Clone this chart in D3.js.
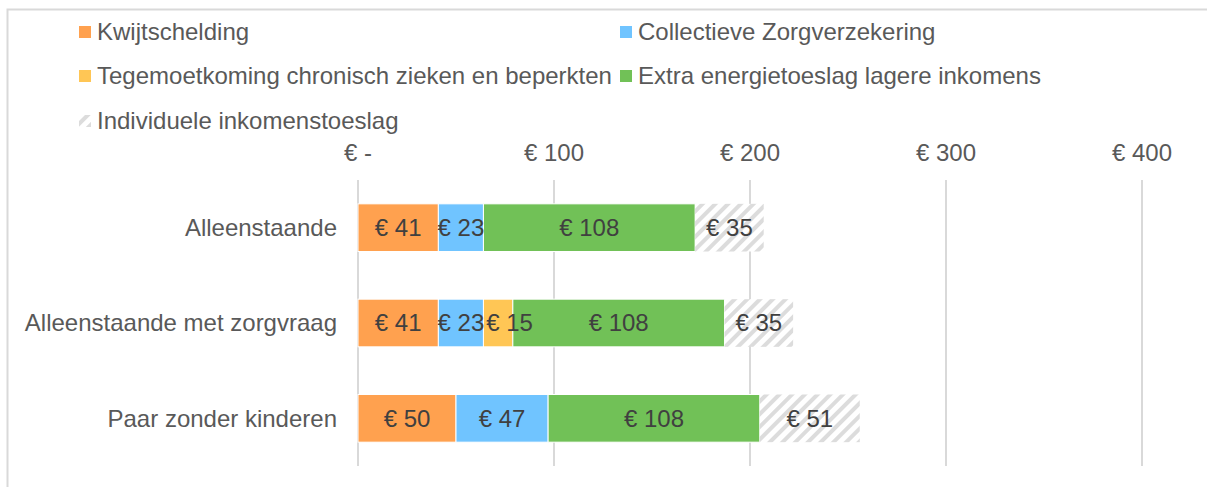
<!DOCTYPE html>
<html lang="nl">
<head>
<meta charset="UTF-8">
<title>Toeslagen per huishouden</title>
<script src="https://d3js.org/d3.v7.min.js"></script>
<style>
    body { margin: 0; background: #fff; }
    svg { display: block; font-family: "Liberation Sans", Arial, sans-serif; }
    .grid line { stroke: #d9d9d9; stroke-width: 2px; }
    .tick-label { fill: #595959; font-size: 24px; }
    .cat-label { fill: #595959; font-size: 24px; }
    .legend text { fill: #595959; font-size: 24px; }
    .bar-label { fill: #404040; font-size: 24px; }
</style>
</head>
<body>
<svg width="1207" height="487"></svg>
<script>
    // data
    const categories = ["Alleenstaande", "Alleenstaande met zorgvraag", "Paar zonder kinderen"];
    const seriesNames = [
        "Kwijtschelding",
        "Collectieve Zorgverzekering",
        "Tegemoetkoming chronisch zieken en beperkten",
        "Extra energietoeslag lagere inkomens",
        "Individuele inkomenstoeslag"
    ];
    const kwijtschelding = [41, 41, 50];
    const zorgverzekering = [23, 23, 47];
    const tegemoetkoming = [0, 15, 0];
    const energietoeslag = [108, 108, 108];
    const inkomenstoeslag = [35, 35, 51];
    const tickValues = [0, 100, 200, 300, 400];
    const tickLabels = ["€ -", "€ 100", "€ 200", "€ 300", "€ 400"];

    const colors = ["#FFA14F", "#70C4FF", "#FFC655", "#71C157", "url(#hatch)"];

    const svg = d3.select("svg");

    // hatch pattern for Individuele inkomenstoeslag
    const defs = svg.append("defs");
    const pat = defs.append("pattern")
        .attr("id", "hatch")
        .attr("patternUnits", "userSpaceOnUse")
        .attr("width", 9).attr("height", 9)
        .attr("patternTransform", "rotate(45)");
    pat.append("rect").attr("width", 9).attr("height", 9).attr("fill", "#fff");
    pat.append("rect").attr("width", 4).attr("height", 9).attr("fill", "#dcdcdc");

    // chart border (top + left)
    svg.append("path")
        .attr("d", "M7.5,487 L7.5,9.5 L1207,9.5")
        .attr("fill", "none")
        .attr("stroke", "#d9d9d9")
        .attr("stroke-width", 2);

    const x = d3.scaleLinear().domain([0, 400]).range([358, 1142]);
    const y = d3.scaleBand().domain(categories).range([180, 466]).paddingInner(0.5).paddingOuter(0.25);

    // gridlines
    svg.append("g").attr("class", "grid")
        .selectAll("line")
        .data(tickValues)
        .join("line")
        .attr("x1", d => x(d)).attr("x2", d => x(d))
        .attr("y1", 180).attr("y2", 466);

    // tick labels
    svg.append("g")
        .selectAll("text")
        .data(tickValues)
        .join("text")
        .attr("class", "tick-label")
        .attr("x", d => x(d))
        .attr("y", 153)
        .attr("dy", "0.35em")
        .attr("text-anchor", "middle")
        .text((d, i) => tickLabels[i]);

    // category labels
    svg.append("g")
        .selectAll("text")
        .data(categories)
        .join("text")
        .attr("class", "cat-label")
        .attr("x", 337)
        .attr("y", d => y(d) + y.bandwidth() / 2)
        .attr("dy", "0.35em")
        .attr("text-anchor", "end")
        .text(d => d);

    // stack the series
    const rows = categories.map((c, i) => ({
        cat: c,
        s0: kwijtschelding[i],
        s1: zorgverzekering[i],
        s2: tegemoetkoming[i],
        s3: energietoeslag[i],
        s4: inkomenstoeslag[i]
    }));
    const stacked = d3.stack().keys(["s0", "s1", "s2", "s3", "s4"])(rows);

    const layer = svg.append("g")
        .selectAll("g")
        .data(stacked)
        .join("g")
        .attr("fill", (d, i) => colors[i]);

    layer.selectAll("rect")
        .data(d => d.filter(p => p[1] > p[0]))
        .join("rect")
        .attr("x", d => x(d[0]))
        .attr("y", d => y(d.data.cat))
        .attr("width", d => x(d[1]) - x(d[0]))
        .attr("height", y.bandwidth())
        .attr("stroke", (d, i, n) => d3.select(n[i].parentNode).datum().index === 4 ? "none" : "#fff")
        .attr("stroke-width", 1);

    // labels on top of all segments
    const segs = stacked.flatMap(s => s.filter(p => p[1] > p[0]));
    const labels = svg.append("g")
        .selectAll("text")
        .data(segs)
        .join("text")
        .attr("class", "bar-label")
        .attr("x", d => (x(d[0]) + x(d[1])) / 2)
        .attr("y", d => y(d.data.cat) + y.bandwidth() / 2)
        .attr("dy", "0.35em")
        .attr("text-anchor", "middle")
        .text(d => "€ " + (d[1] - d[0]));

    // push labels right when a narrow segment makes them collide
    categories.forEach(c => {
        let prevRight = -Infinity;
        labels.filter(d => d.data.cat === c)
            .sort((a, b) => a[0] - b[0])
            .each(function () {
                const t = d3.select(this);
                const w = this.getComputedTextLength();
                let cx = +t.attr("x");
                if (cx - w / 2 < prevRight + 2) cx = prevRight + 2 + w / 2;
                t.attr("x", cx);
                prevRight = cx + w / 2;
            });
    });

    // legend
    const legendPos = [[79, 32], [620, 32], [79, 76], [620, 76], [79, 121]];
    const legend = svg.append("g").attr("class", "legend")
        .selectAll("g")
        .data(seriesNames)
        .join("g")
        .attr("transform", (d, i) => `translate(${legendPos[i][0]},${legendPos[i][1]})`);

    legend.append("rect")
        .attr("x", 0).attr("y", -6)
        .attr("width", 12).attr("height", 12)
        .attr("fill", (d, i) => i === 4 ? "url(#hatch)" : colors[i]);

    legend.append("text")
        .attr("x", 18)
        .attr("dy", "0.35em")
        .text(d => d);
</script>
</body>
</html>
